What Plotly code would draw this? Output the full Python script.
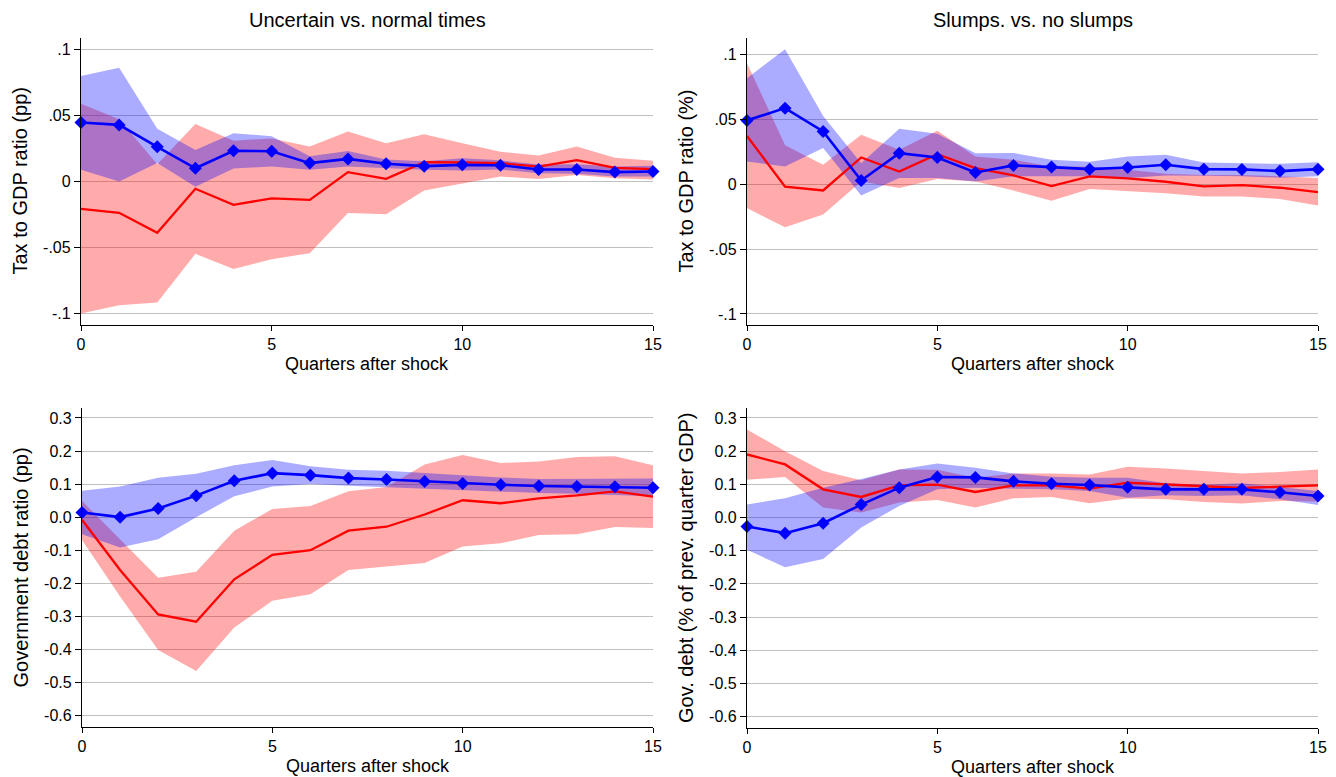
import plotly.graph_objects as go

# ---------------- data ----------------
quarters = list(range(16))

# Panel 1: Uncertain vs. normal times, tax to GDP ratio
p1_blue = [0.0446, 0.0428, 0.0262, 0.0100, 0.0232, 0.0229, 0.0139, 0.0171, 0.0134, 0.0116, 0.0126, 0.0123, 0.0091, 0.0091, 0.0071, 0.0076]
p1_blue_up = [0.0798, 0.0861, 0.0398, 0.0239, 0.0364, 0.0343, 0.0190, 0.0230, 0.0166, 0.0154, 0.0176, 0.0160, 0.0128, 0.0130, 0.0113, 0.0120]
p1_blue_lo = [0.0088, 0.0000, 0.0140, -0.0040, 0.0098, 0.0114, 0.0088, 0.0113, 0.0100, 0.0088, 0.0083, 0.0090, 0.0063, 0.0058, 0.0038, 0.0038]
p1_red = [-0.0207, -0.0237, -0.0388, -0.0055, -0.0176, -0.0128, -0.0139, 0.0071, 0.0020, 0.0146, 0.0144, 0.0139, 0.0113, 0.0161, 0.0103, 0.0093]
p1_red_up = [0.0587, 0.0470, 0.0130, 0.0434, 0.0308, 0.0326, 0.0265, 0.0378, 0.0290, 0.0358, 0.0290, 0.0224, 0.0196, 0.0264, 0.0180, 0.0156]
p1_red_lo = [-0.0998, -0.0935, -0.0914, -0.0547, -0.0662, -0.0587, -0.0542, -0.0239, -0.0247, -0.0068, -0.0013, 0.0038, 0.0018, 0.0050, 0.0025, 0.0015]

# Panel 2: Slumps vs. no slumps, tax to GDP ratio
p2_blue = [0.0490, 0.0585, 0.0405, 0.0028, 0.0238, 0.0205, 0.0090, 0.0144, 0.0131, 0.0115, 0.0128, 0.0149, 0.0115, 0.0113, 0.0100, 0.0115]
p2_blue_up = [0.0815, 0.1038, 0.0525, 0.0160, 0.0426, 0.0387, 0.0238, 0.0240, 0.0187, 0.0172, 0.0213, 0.0226, 0.0167, 0.0160, 0.0156, 0.0169]
p2_blue_lo = [0.0174, 0.0136, 0.0277, -0.0087, 0.0046, 0.0046, 0.0020, 0.0060, 0.0060, 0.0060, 0.0046, 0.0067, 0.0064, 0.0060, 0.0049, 0.0060]
p2_red = [0.0370, -0.0020, -0.0049, 0.0205, 0.0097, 0.0230, 0.0123, 0.0067, -0.0015, 0.0059, 0.0044, 0.0018, -0.0018, -0.0008, -0.0028, -0.0062]
p2_red_up = [0.0930, 0.0300, 0.0149, 0.0380, 0.0264, 0.0410, 0.0213, 0.0187, 0.0136, 0.0136, 0.0110, 0.0080, 0.0070, 0.0070, 0.0060, 0.0046]
p2_red_lo = [-0.0185, -0.0333, -0.0235, 0.0020, -0.0030, 0.0040, 0.0020, -0.0050, -0.0128, -0.0038, -0.0054, -0.0070, -0.0095, -0.0095, -0.0115, -0.0164]

# Panel 3: Uncertain vs. normal times, government debt ratio
p3_blue = [0.014, 0.000, 0.026, 0.065, 0.110, 0.133, 0.127, 0.118, 0.114, 0.108, 0.102, 0.098, 0.094, 0.093, 0.092, 0.089]
p3_blue_up = [0.080, 0.093, 0.119, 0.131, 0.157, 0.173, 0.154, 0.143, 0.140, 0.133, 0.125, 0.120, 0.115, 0.115, 0.116, 0.117]
p3_blue_lo = [-0.052, -0.092, -0.067, 0.000, 0.063, 0.093, 0.100, 0.095, 0.090, 0.085, 0.081, 0.077, 0.073, 0.071, 0.068, 0.063]
p3_red = [-0.008, -0.160, -0.294, -0.316, -0.188, -0.114, -0.100, -0.041, -0.029, 0.008, 0.051, 0.042, 0.057, 0.066, 0.078, 0.062]
p3_red_up = [0.049, -0.066, -0.183, -0.165, -0.041, 0.025, 0.034, 0.078, 0.091, 0.159, 0.188, 0.164, 0.168, 0.182, 0.184, 0.157]
p3_red_lo = [-0.069, -0.240, -0.402, -0.465, -0.334, -0.253, -0.233, -0.160, -0.149, -0.139, -0.089, -0.079, -0.054, -0.052, -0.030, -0.033]

# Panel 4: Slumps vs. no slumps, gov. debt
p4_blue = [-0.027, -0.047, -0.017, 0.039, 0.090, 0.122, 0.121, 0.109, 0.102, 0.098, 0.091, 0.085, 0.085, 0.085, 0.076, 0.065]
p4_blue_up = [0.039, 0.058, 0.090, 0.116, 0.145, 0.163, 0.150, 0.133, 0.123, 0.120, 0.120, 0.103, 0.099, 0.103, 0.092, 0.080]
p4_blue_lo = [-0.097, -0.150, -0.125, -0.030, 0.035, 0.085, 0.090, 0.087, 0.085, 0.080, 0.060, 0.067, 0.065, 0.067, 0.055, 0.038]
p4_red = [0.190, 0.160, 0.085, 0.062, 0.097, 0.099, 0.077, 0.097, 0.097, 0.087, 0.105, 0.100, 0.093, 0.089, 0.093, 0.097]
p4_red_up = [0.265, 0.200, 0.140, 0.112, 0.145, 0.144, 0.120, 0.133, 0.133, 0.130, 0.153, 0.148, 0.140, 0.133, 0.137, 0.145]
p4_red_lo = [0.114, 0.122, 0.030, 0.015, 0.045, 0.053, 0.030, 0.058, 0.062, 0.043, 0.057, 0.055, 0.047, 0.042, 0.050, 0.048]

x_ticks = [0, 5, 10, 15]
tax_ticks = [-0.1, -0.05, 0, 0.05, 0.1]
tax_ticktext = ["-.1", "-.05", "0", ".05", ".1"]
debt_ticks = [-0.6, -0.5, -0.4, -0.3, -0.2, -0.1, 0.0, 0.1, 0.2, 0.3]
debt_ticktext = ["-0.6", "-0.5", "-0.4", "-0.3", "-0.2", "-0.1", "0.0", "0.1", "0.2", "0.3"]

col_titles = ["Uncertain vs. normal times", "Slumps. vs. no slumps"]
y_titles = ["Tax to GDP ratio (pp)", "Tax to GDP ratio (%)",
            "Government debt ratio (pp)", "Gov. debt (% of prev. quarter GDP)"]
x_title = "Quarters after shock"

# ---------------- figure ----------------
W, H = 1336, 777
FONT = "Liberation Sans, Arial, sans-serif"
RED_BAND = "rgba(255,0,0,0.33)"
BLUE_BAND = "rgba(0,0,255,0.33)"

panels = [
    (p1_blue, p1_blue_up, p1_blue_lo, p1_red, p1_red_up, p1_red_lo),
    (p2_blue, p2_blue_up, p2_blue_lo, p2_red, p2_red_up, p2_red_lo),
    (p3_blue, p3_blue_up, p3_blue_lo, p3_red, p3_red_up, p3_red_lo),
    (p4_blue, p4_blue_up, p4_blue_lo, p4_red, p4_red_up, p4_red_lo),
]

# pixel layout of each plotting area: (left, right, top, bottom)
boxes = [(81, 653, 38, 325), (747, 1318, 38, 325),
         (82, 653, 408, 727), (747, 1318, 408, 728)]
yranges = [[-0.1085, 0.1085], [-0.1085, 0.1125], [-0.6345, 0.330], [-0.634, 0.330]]

fig = go.Figure()
layout = dict(width=W, height=H, margin=dict(l=0, r=0, t=0, b=0, pad=0),
              paper_bgcolor="white", plot_bgcolor="white",
              showlegend=False, font=dict(family=FONT, color="black"))
annotations = []

for i, (b, bu, bl, r, ru, rl) in enumerate(panels):
    n = i + 1
    xa = "x" if n == 1 else f"x{n}"
    ya = "y" if n == 1 else f"y{n}"
    xr = quarters + quarters[::-1]
    fig.add_trace(go.Scatter(x=xr, y=ru + rl[::-1], fill="toself", fillcolor=RED_BAND,
                             line=dict(width=0), mode="lines", xaxis=xa, yaxis=ya,
                             hoverinfo="skip"))
    fig.add_trace(go.Scatter(x=xr, y=bu + bl[::-1], fill="toself", fillcolor=BLUE_BAND,
                             line=dict(width=0), mode="lines", xaxis=xa, yaxis=ya,
                             hoverinfo="skip"))
    fig.add_trace(go.Scatter(x=quarters, y=r, mode="lines", line=dict(color="#ff0000", width=2.3),
                             xaxis=xa, yaxis=ya, cliponaxis=False))
    fig.add_trace(go.Scatter(x=quarters, y=b, mode="lines+markers",
                             line=dict(color="#0000ff", width=2.6),
                             marker=dict(symbol="diamond", size=10, color="#0000ff"),
                             xaxis=xa, yaxis=ya, cliponaxis=False))

    left, right, top, bottom = boxes[i]
    is_tax = i < 2
    layout["xaxis" if n == 1 else f"xaxis{n}"] = dict(
        domain=[left / W, right / W], range=[0, 15], anchor=ya, automargin=False,
        tickvals=x_ticks, ticks="outside", ticklen=5, tickcolor="black", tickwidth=1,
        showline=True, linecolor="black", linewidth=1.3, showgrid=False, zeroline=False,
        tickfont=dict(size=16, family=FONT, color="black"), fixedrange=True)
    layout["yaxis" if n == 1 else f"yaxis{n}"] = dict(
        domain=[1 - bottom / H, 1 - top / H], range=yranges[i], anchor=xa, automargin=False,
        tickvals=tax_ticks if is_tax else debt_ticks,
        ticktext=tax_ticktext if is_tax else debt_ticktext,
        ticks="outside", ticklen=6, tickcolor="black", tickwidth=1,
        showline=True, linecolor="black", linewidth=1.3,
        showgrid=True, gridcolor="#c0c0c0", gridwidth=1, zeroline=False,
        tickfont=dict(size=16, family=FONT, color="black"), fixedrange=True)

    # y axis title
    annotations.append(dict(text=y_titles[i], x=(20 if left < 300 else 686) / W,
                            y=1 - (top + bottom) / 2 / H, xref="paper", yref="paper",
                            xanchor="center", yanchor="middle", textangle=-90,
                            showarrow=False, font=dict(size=20, family=FONT, color="black")))
    # x axis title
    annotations.append(dict(text=x_title, x=(left + right) / 2 / W, y=1 - (bottom + 39) / H,
                            xref="paper", yref="paper", xanchor="center", yanchor="middle",
                            showarrow=False, font=dict(size=18, family=FONT, color="black")))

for j, t in enumerate(col_titles):
    left, right, _, _ = boxes[j]
    annotations.append(dict(text=t, x=(left + right) / 2 / W, y=1 - 20 / H,
                            xref="paper", yref="paper", xanchor="center", yanchor="middle",
                            showarrow=False, font=dict(size=20, family=FONT, color="black")))

layout["annotations"] = annotations
fig.update_layout(**layout)
fig.write_html("out.html",
               config={"displayModeBar": False},
               post_script="document.body.style.margin='0';document.body.style.padding='0';"
                           "document.body.style.overflow='hidden';"
                           "document.documentElement.style.overflow='hidden';")
